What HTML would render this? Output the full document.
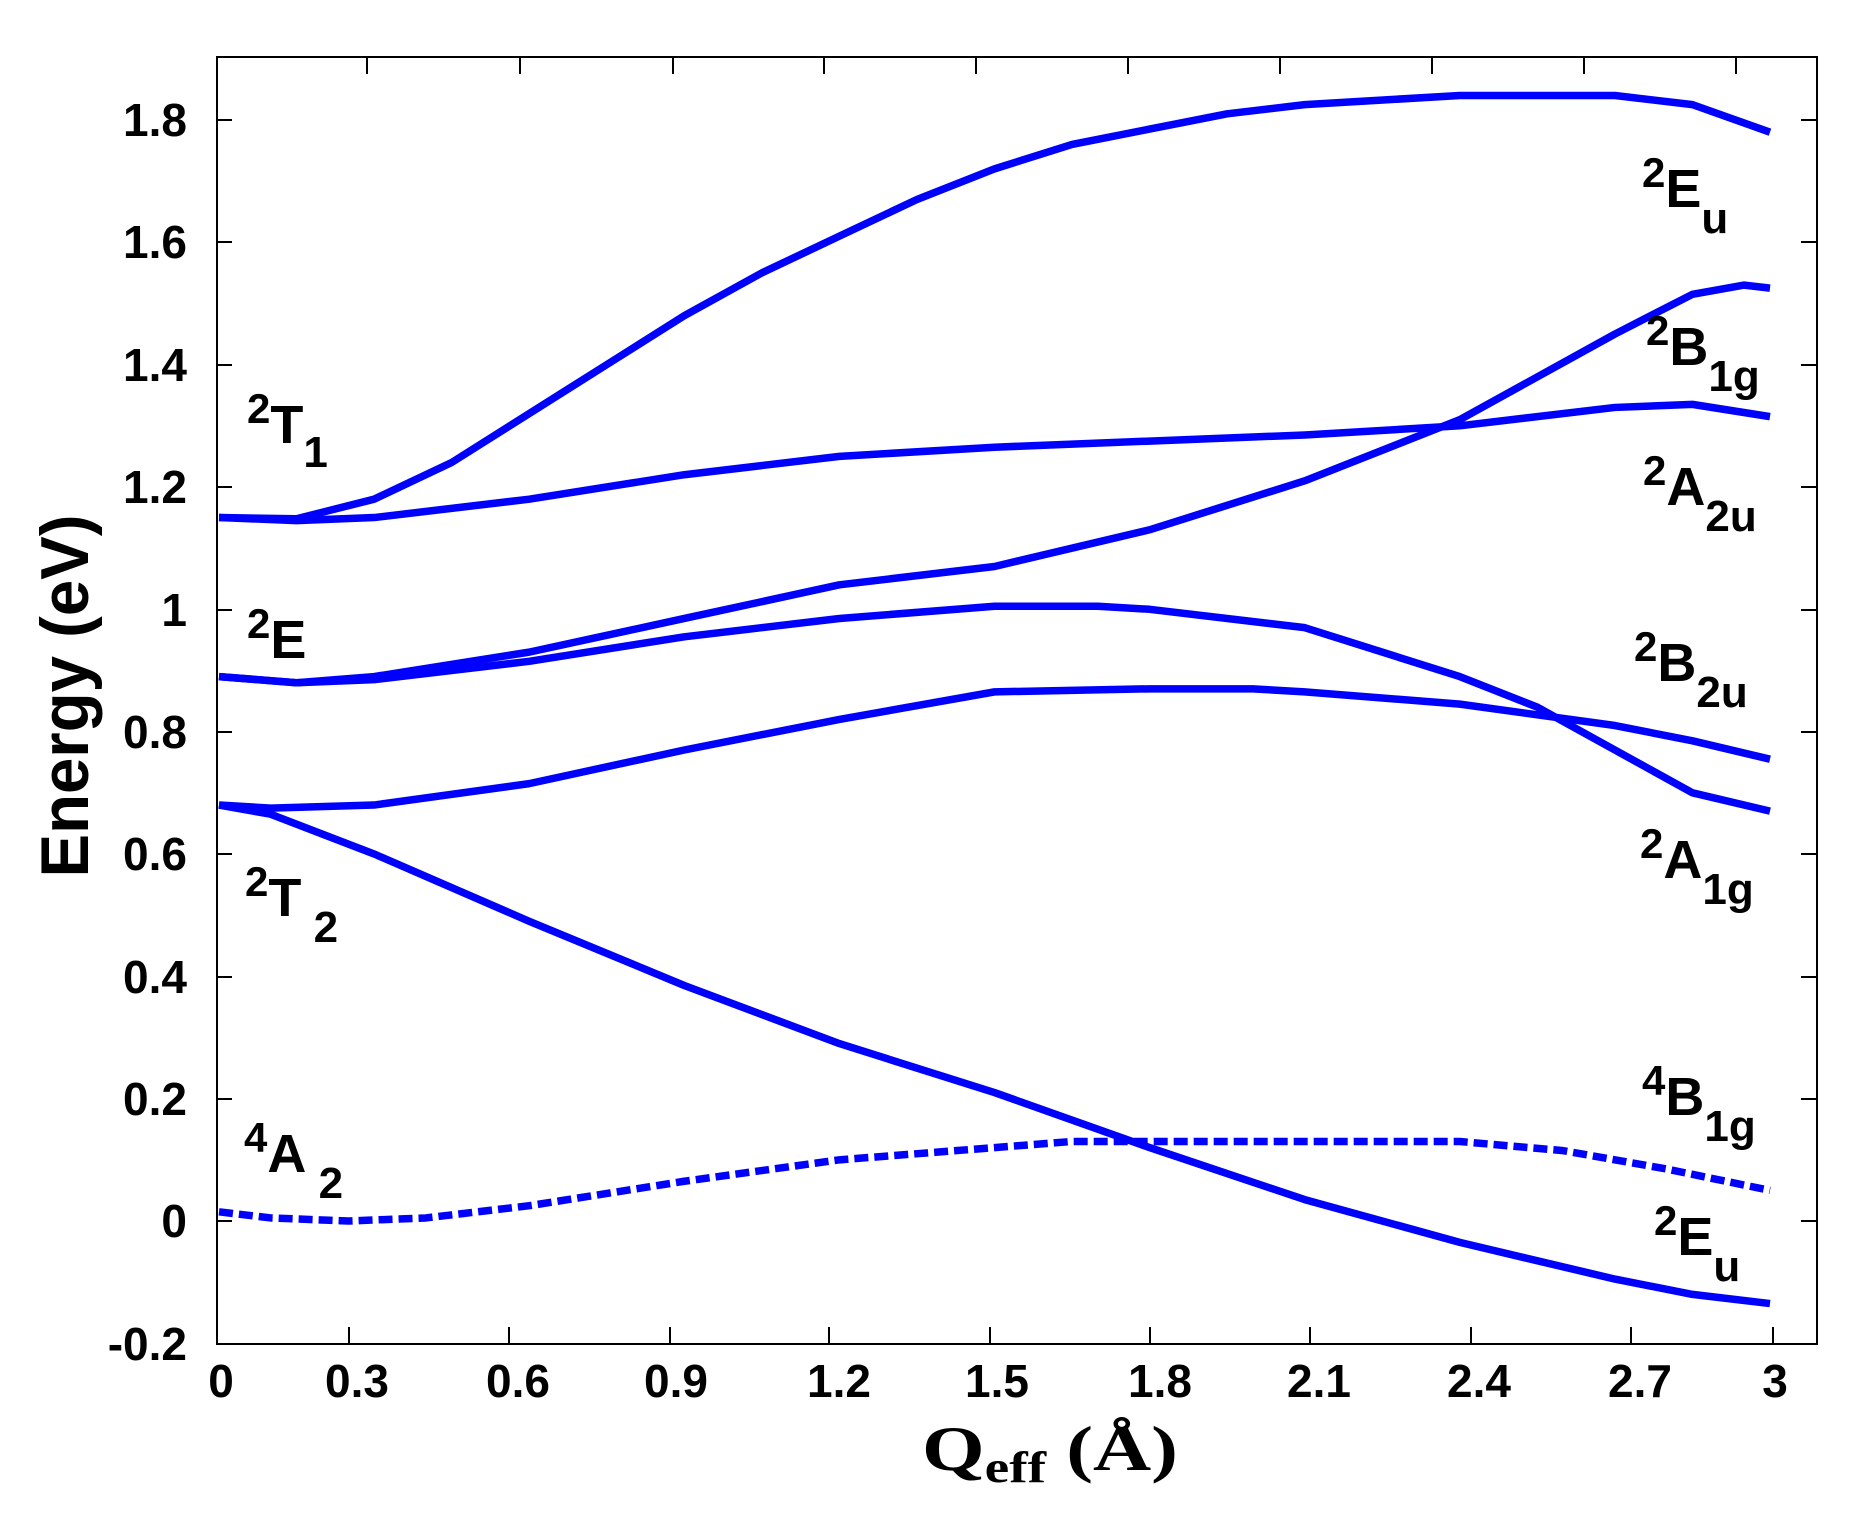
<!DOCTYPE html>
<html><head><meta charset="utf-8"><style>
html,body{margin:0;padding:0;background:#fff}
svg{display:block}
text{font-family:"Liberation Sans",Arial,sans-serif;font-weight:bold;fill:#000}
</style></head><body>
<svg width="1866" height="1520" viewBox="0 0 1866 1520" xmlns="http://www.w3.org/2000/svg">
<rect x="217" y="57" width="1600" height="1287" fill="none" stroke="#000" stroke-width="2"/>
<g stroke="#000" stroke-width="2">
<path d="M217 120h15M217 242h15M217 365h15M217 487h15M217 610h15M217 732h15M217 854h15M217 977h15M217 1099h15M217 1221h15"/>
<path d="M1817 120h-16M1817 242h-16M1817 365h-16M1817 487h-16M1817 610h-16M1817 732h-16M1817 854h-16M1817 977h-16M1817 1099h-16M1817 1221h-16"/>
<path d="M349 1344v-17M509 1344v-17M670 1344v-17M829 1344v-17M990 1344v-17M1150 1344v-17M1310 1344v-17M1471 1344v-17M1631 1344v-17M1773 1344v-17"/>
<path d="M367 57v17M520 57v17M673 57v17M824 57v17M976 57v17M1128 57v17M1280 57v17M1432 57v17M1584 57v17M1736 57v17"/>
</g>
<g font-size="46" text-anchor="end">
<text x="187" y="136">1.8</text><text x="187" y="258">1.6</text><text x="187" y="381">1.4</text>
<text x="187" y="503">1.2</text><text x="187" y="626">1</text><text x="187" y="748">0.8</text>
<text x="187" y="870">0.6</text><text x="187" y="993">0.4</text><text x="187" y="1115">0.2</text>
<text x="187" y="1237">0</text><text x="187" y="1360">-0.2</text>
</g>
<g font-size="46" text-anchor="middle">
<text x="221" y="1397">0</text><text x="357" y="1397">0.3</text><text x="518" y="1397">0.6</text>
<text x="676" y="1397">0.9</text><text x="839" y="1397">1.2</text><text x="997" y="1397">1.5</text>
<text x="1160" y="1397">1.8</text><text x="1319" y="1397">2.1</text><text x="1479" y="1397">2.4</text>
<text x="1640" y="1397">2.7</text><text x="1775" y="1397">3</text>
</g>
<text transform="translate(88,696) rotate(-90)" font-size="68" text-anchor="middle" textLength="363" lengthAdjust="spacingAndGlyphs">Energy (eV)</text>
<text x="922" y="1470" font-size="64" style="font-family:'Liberation Serif',serif" textLength="256" lengthAdjust="spacingAndGlyphs">Q<tspan font-size="44" dy="12">eff</tspan><tspan dy="-12"> (Å)</tspan></text>

<g transform="translate(219,1221) scale(517,-611.7)" fill="none" stroke="#0000ff" stroke-width="7.5" stroke-linejoin="round">
<polyline vector-effect="non-scaling-stroke" points="0,1.15 0.15,1.148 0.3,1.18 0.45,1.24 0.6,1.32 0.75,1.40 0.9,1.48 1.05,1.55 1.2,1.61 1.35,1.67 1.5,1.72 1.65,1.76 1.8,1.785 1.95,1.81 2.1,1.825 2.4,1.84 2.7,1.84 2.85,1.825 3,1.78"/>
<polyline vector-effect="non-scaling-stroke" points="0,1.15 0.15,1.145 0.3,1.15 0.6,1.18 0.9,1.22 1.2,1.25 1.5,1.265 1.8,1.275 2.1,1.285 2.4,1.30 2.7,1.33 2.85,1.335 3,1.315"/>
<polyline vector-effect="non-scaling-stroke" points="0,0.89 0.15,0.88 0.3,0.89 0.6,0.93 0.9,0.985 1.2,1.04 1.5,1.07 1.8,1.13 2.1,1.21 2.4,1.31 2.7,1.45 2.85,1.515 2.95,1.53 3,1.525"/>
<polyline vector-effect="non-scaling-stroke" points="0,0.89 0.15,0.88 0.3,0.885 0.6,0.915 0.9,0.955 1.2,0.985 1.5,1.005 1.7,1.005 1.8,1.0 2.1,0.97 2.4,0.89 2.55,0.84 2.7,0.77 2.85,0.70 3,0.67"/>
<polyline vector-effect="non-scaling-stroke" points="0,0.68 0.1,0.675 0.3,0.68 0.6,0.715 0.9,0.77 1.2,0.82 1.5,0.865 1.8,0.87 2.0,0.87 2.1,0.865 2.4,0.845 2.7,0.81 2.85,0.785 3,0.755"/>
<polyline vector-effect="non-scaling-stroke" points="0,0.68 0.1,0.665 0.3,0.60 0.6,0.49 0.9,0.385 1.2,0.29 1.5,0.21 1.8,0.12 2.1,0.035 2.4,-0.035 2.7,-0.095 2.85,-0.12 3,-0.135"/>
<polyline vector-effect="non-scaling-stroke" stroke-dasharray="14 6" points="0,0.015 0.1,0.005 0.25,0.0 0.4,0.005 0.6,0.025 0.9,0.065 1.2,0.10 1.5,0.12 1.65,0.13 1.8,0.13 2.4,0.13 2.6,0.115 2.8,0.085 3,0.05"/>
</g>

<g font-size="54">
<text x="247" y="443"><tspan font-size="42" dy="-20">2</tspan><tspan dy="20">T</tspan><tspan font-size="44" dy="24">1</tspan></text>
<text x="247" y="658"><tspan font-size="42" dy="-20">2</tspan><tspan dy="20">E</tspan></text>
<text x="245" y="916"><tspan font-size="42" dy="-20">2</tspan><tspan dy="20">T</tspan><tspan font-size="44" dy="26"> 2</tspan></text>
<text x="244" y="1172"><tspan font-size="42" dy="-20">4</tspan><tspan dy="20">A</tspan><tspan font-size="44" dy="26"> 2</tspan></text>
<text x="1642" y="207"><tspan font-size="42" dy="-20">2</tspan><tspan dy="20">E</tspan><tspan font-size="44" dy="26">u</tspan></text>
<text x="1646" y="365"><tspan font-size="42" dy="-20">2</tspan><tspan dy="20">B</tspan><tspan font-size="44" dy="26">1g</tspan></text>
<text x="1643" y="505"><tspan font-size="42" dy="-20">2</tspan><tspan dy="20">A</tspan><tspan font-size="44" dy="26">2u</tspan></text>
<text x="1634" y="681"><tspan font-size="42" dy="-20">2</tspan><tspan dy="20">B</tspan><tspan font-size="44" dy="26">2u</tspan></text>
<text x="1640" y="878"><tspan font-size="42" dy="-20">2</tspan><tspan dy="20">A</tspan><tspan font-size="44" dy="26">1g</tspan></text>
<text x="1642" y="1115"><tspan font-size="42" dy="-20">4</tspan><tspan dy="20">B</tspan><tspan font-size="44" dy="26">1g</tspan></text>
<text x="1654" y="1255"><tspan font-size="42" dy="-20">2</tspan><tspan dy="20">E</tspan><tspan font-size="44" dy="26">u</tspan></text>
</g>
</svg>
</body></html>
